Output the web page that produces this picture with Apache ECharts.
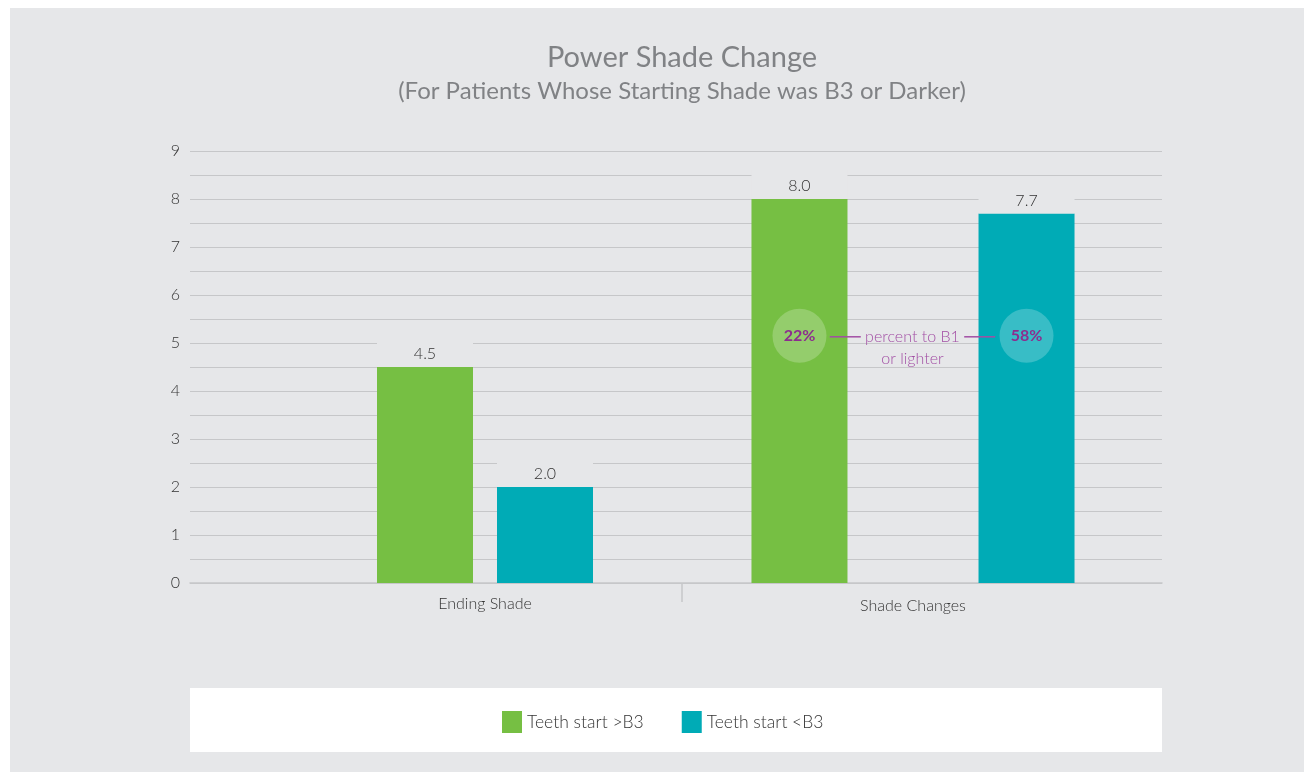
<!DOCTYPE html>
<html>
<head>
<meta charset="utf-8">
<script src="https://cdn.jsdelivr.net/npm/echarts@6/dist/echarts.min.js"></script>
<style>
  html, body { margin: 0; padding: 0; background: #ffffff; }
  #chart { position: absolute; left: 10px; top: 8px; width: 1294px; height: 764px; background: #e6e7e9; }
</style>
</head>
<body>
<div id="chart"></div>
<script>
// ---- data ----
const categories = ['Ending Shade', 'Shade Changes'];
const seriesNames = ['Teeth start >B3', 'Teeth start <B3'];
const greaterB3 = [4.5, 8.0];   // Teeth start >B3
const lessB3 = [2.0, 7.7];      // Teeth start <B3
const yTicks = [0, 1, 2, 3, 4, 5, 6, 7, 8, 9];
const percentToB1 = ['22%', '58%'];   // Shade Changes: >B3, <B3
const percentLevel = 5.15;
const annotationText = ['percent to B1', 'or lighter'];

const FONT = 'Lato, "Open Sans", sans-serif';
const GREEN = '#76bf43';
const TEAL = '#00abb6';
const PURPLE = '#8c2d8e';
const PURPLE_LIGHT = '#a24ea4';
const GRID_COLOR = '#c6c7c9';
const PANEL = '#e6e7e9';

const chart = echarts.init(document.getElementById('chart'));

const yMin = yTicks[0], yMax = yTicks[yTicks.length - 1];
const gridTop = 143, gridBottom = 189;

function valueLabel() {
  return {
    show: true, position: 'top', distance: 0,
    formatter: p => p.value.toFixed(1),
    color: '#333', fontFamily: FONT, fontSize: 16, fontWeight: 300,
    backgroundColor: PANEL, width: 96, align: 'center',
    padding: [7, 0, 4, 0], lineHeight: 18
  };
}

function circleMark(text) {
  return {
    silent: true,
    symbol: 'circle', symbolSize: 54,
    itemStyle: { color: 'rgba(255,255,255,0.22)' },
    label: { show: true, position: 'inside', color: PURPLE, fontFamily: FONT, fontSize: 16, fontWeight: 'bold' },
    data: [{ coord: [0, percentLevel], value: text, label: { formatter: text } }]
  };
}

const textMark = {
  silent: true,
  symbol: 'circle', symbolSize: 54,
  itemStyle: { color: 'rgba(255,255,255,0.22)' },
  label: { show: true, position: 'inside', color: PURPLE, fontFamily: FONT, fontSize: 16, fontWeight: 'bold' },
  data: [
    { coord: [0, percentLevel], label: { formatter: percentToB1[0] } },
    {
      coord: [0, percentLevel], symbolSize: 1, itemStyle: { color: 'rgba(0,0,0,0)' },
      label: {
        show: true, position: 'inside', offset: [113, 12], align: 'center',
        formatter: '{l|}{t| ' + annotationText[0] + ' }{l|}\n{t|' + annotationText[1] + '}',
        rich: {
          l: { width: 31, height: 1.5, backgroundColor: PURPLE_LIGHT },
          t: { color: PURPLE_LIGHT, fontFamily: FONT, fontSize: 16, fontWeight: 300, lineHeight: 22 }
        }
      }
    }
  ]
};

const option = {
  animation: false,
  color: [GREEN, TEAL],
  title: {
    text: 'Power Shade Change',
    subtext: '(For Patients Whose Starting Shade was B3 or Darker)',
    left: 667, textAlign: 'center', top: 30, itemGap: 7,
    textStyle: { color: '#808285', fontFamily: FONT, fontSize: 29, fontWeight: 'normal' },
    subtextStyle: { color: '#808285', fontFamily: FONT, fontSize: 24, fontWeight: 'normal' }
  },
  legend: {
    data: seriesNames,
    left: 492, top: 703, padding: 0,
    itemWidth: 20, itemHeight: 22, itemGap: 38,
    icon: 'rect',
    textStyle: { color: '#333', fontFamily: FONT, fontSize: 17.5, fontWeight: 300 },
    selectedMode: false
  },
  graphic: [
    { type: 'rect', left: 180, top: 680, shape: { width: 972, height: 64 }, style: { fill: '#ffffff' }, z: -1 },
    { type: 'line', shape: { x1: 672, y1: 576, x2: 672, y2: 594 }, style: { stroke: GRID_COLOR, lineWidth: 1.5 } }
  ],
  grid: [
    { left: 180, right: 142, top: gridTop, bottom: gridBottom },
    { left: 278, width: 394, top: gridTop, bottom: gridBottom },
    { left: 672, width: 462, top: gridTop, bottom: gridBottom }
  ],
  xAxis: [
    { gridIndex: 0, type: 'category', data: categories, axisLine: { show: true, lineStyle: { color: GRID_COLOR, width: 1.5 } }, axisTick: { show: false }, axisLabel: { show: false } },
    { gridIndex: 1, type: 'category', data: [categories[0]], axisLine: { show: false }, axisTick: { show: false },
      axisLabel: { color: '#333', fontFamily: FONT, fontSize: 16, fontWeight: 300, margin: 13 } },
    { gridIndex: 2, type: 'category', data: [categories[1]], axisLine: { show: false }, axisTick: { show: false },
      axisLabel: { color: '#333', fontFamily: FONT, fontSize: 16, fontWeight: 300, margin: 15 } }
  ],
  yAxis: [
    { gridIndex: 0, type: 'value', min: yMin, max: yMax, interval: 1,
      axisLine: { show: false }, axisTick: { show: false },
      axisLabel: { color: '#333', fontFamily: FONT, fontSize: 16, fontWeight: 300, margin: 10 },
      splitLine: { lineStyle: { color: GRID_COLOR, width: 1.2 } },
      minorTick: { show: false, splitNumber: 2 },
      minorSplitLine: { show: true, lineStyle: { color: GRID_COLOR, width: 1.2 } } },
    { gridIndex: 1, type: 'value', min: yMin, max: yMax, interval: 1, show: false, splitLine: { show: false } },
    { gridIndex: 2, type: 'value', min: yMin, max: yMax, interval: 1, show: false, splitLine: { show: false } }
  ],
  series: [
    { name: seriesNames[0], type: 'bar', xAxisIndex: 1, yAxisIndex: 1, data: [greaterB3[0]],
      barWidth: 96, barGap: '25%', label: valueLabel(), emphasis: { disabled: true } },
    { name: seriesNames[1], type: 'bar', xAxisIndex: 1, yAxisIndex: 1, data: [lessB3[0]],
      barWidth: 96, barGap: '25%', label: valueLabel(), emphasis: { disabled: true } },
    { name: seriesNames[0], type: 'bar', xAxisIndex: 2, yAxisIndex: 2, data: [greaterB3[1]],
      barWidth: 96, barGap: '136.5%', label: valueLabel(), emphasis: { disabled: true },
      markPoint: textMark },
    { name: seriesNames[1], type: 'bar', xAxisIndex: 2, yAxisIndex: 2, data: [lessB3[1]],
      barWidth: 96, barGap: '136.5%', label: valueLabel(), emphasis: { disabled: true },
      markPoint: circleMark(percentToB1[1]) }
  ]
};
chart.setOption(option);
</script>
</body>
</html>
